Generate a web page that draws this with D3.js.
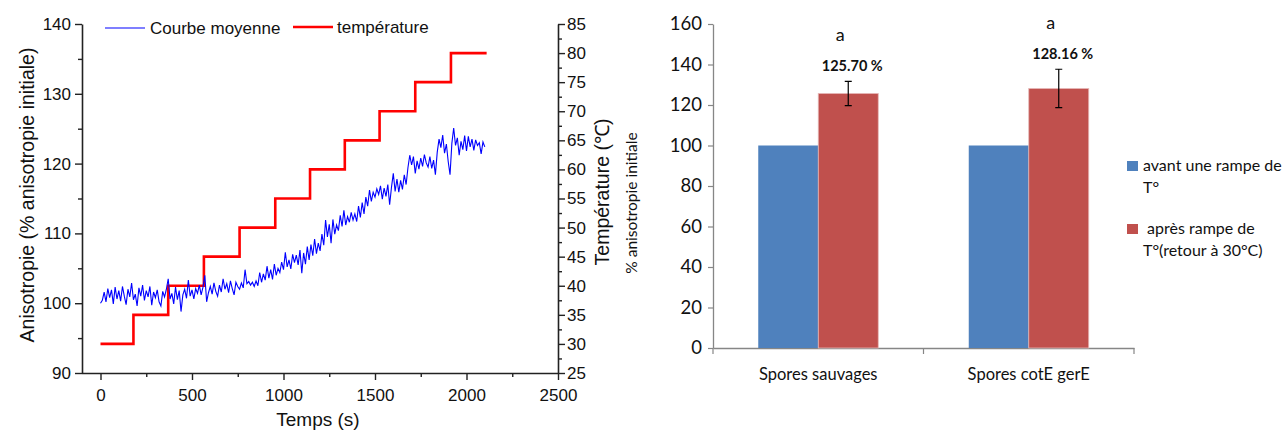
<!DOCTYPE html>
<html><head><meta charset="utf-8">
<script src="https://cdn.jsdelivr.net/npm/d3@7"></script>
<style>body{margin:0;background:#fff}svg{display:block}</style>
</head><body>
<svg id="c" width="1282" height="432"></svg>
<script>
// ---------- Left chart data ----------
const timeStep = 10; // seconds between samples of the mean curve
const anisotropy = [
100.0,100.4,101.6,100.2,102.1,100.8,101.9,99.9,102.3,100.6,
101.8,100.3,102.4,101.0,99.8,102.0,100.9,102.9,100.5,101.3,
99.6,102.2,101.0,102.6,100.4,101.8,100.9,102.4,99.7,101.6,
100.8,101.9,100.2,99.6,101.7,100.9,102.0,103.5,100.6,101.4,
99.9,102.3,100.5,101.8,98.8,101.2,102.0,100.7,103.3,101.0,
101.9,100.6,102.1,101.4,102.6,101.2,102.3,104.0,100.2,101.5,
102.4,101.3,102.9,101.7,101.0,102.6,101.6,103.5,102.0,102.8,
101.5,103.2,102.1,101.2,103.0,102.4,102.0,102.9,102.2,104.8,
102.8,103.1,102.6,103.0,102.4,103.2,102.5,104.4,103.0,104.2,
103.3,105.3,103.6,104.8,103.4,105.6,104.0,105.0,104.4,105.9,
104.8,107.3,105.2,106.2,104.9,107.0,105.8,106.9,105.5,107.6,
104.3,107.2,105.6,108.1,106.2,108.4,106.8,109.2,107.1,108.6,
107.5,109.9,108.3,111.9,109.5,111.3,108.6,112.0,109.9,111.2,
110.4,112.6,111.0,113.3,111.2,112.4,111.6,113.0,111.9,112.8,
111.7,113.9,112.3,114.4,112.8,115.2,113.9,116.2,114.6,115.9,
115.2,116.4,115.6,116.8,114.9,116.5,115.3,117.0,114.1,116.6,
118.6,116.0,117.8,115.9,117.6,116.3,118.4,117.0,119.4,121.2,
119.8,121.0,118.6,120.4,119.2,120.8,119.6,121.3,120.1,119.5,
121.0,119.3,120.5,118.4,121.6,123.5,122.3,124.1,121.5,122.8,
120.3,118.4,122.9,125.1,122.6,123.7,121.2,123.2,122.0,124.0,
121.8,123.9,122.4,123.5,121.9,123.4,122.6,123.0,121.4,123.1,
122.4];
const stepStarts = [0,180,370,565,760,955,1145,1335,1525,1720,1915];
const stepEnd = 2110;
const stepTemps = [30,35,40,45,50,55,60,65,70,75,80];
const xTicks = [0,500,1000,1500,2000,2500];
const yLeftTicks = [90,100,110,120,130,140];
const yRightTicks = [25,30,35,40,45,50,55,60,65,70,75,80,85];

// ---------- Right chart data ----------
const categories = ["Spores sauvages","Spores cotE gerE"];
const avant = [100,100];
const apres = [125.70,128.16];
const apresErr = [6.0,9.5];
const apresLabels = ["125.70 %","128.16 %"];
const signif = ["a","a"];
const barTicks = [0,20,40,60,80,100,120,140,160];

const svg = d3.select("#c");
const LF = "'Liberation Sans', Arial, sans-serif";
const RF = "Lato, 'Open Sans', sans-serif";

// ===== LEFT CHART =====
const x = d3.scaleLinear().domain([0,2500]).range([100.5,558]);
const yL = d3.scaleLinear().domain([90,140]).range([373,24]);
const yR = d3.scaleLinear().domain([25,85]).range([373,24]);
const fmt = d3.format("d");

function styleAxis(g, font, size, color){
  g.selectAll("path.domain").attr("stroke",color).attr("stroke-width",1.6);
  g.selectAll(".tick line").attr("stroke",color).attr("stroke-width",1.4);
  g.selectAll(".tick text").attr("fill","#111").style("font-family",font).style("font-size",size+"px");
}
// minor ticks
svg.append("g").attr("transform","translate(0,373)")
  .call(d3.axisBottom(x).tickValues(d3.range(250,2500,500)).tickSize(4).tickFormat(""))
  .call(g=>{g.select(".domain").remove();g.selectAll("line").attr("stroke","#222").attr("stroke-width",1.4);});
svg.append("g").attr("transform","translate(82,0)")
  .call(d3.axisLeft(yL).tickValues(d3.range(95,140,10)).tickSize(4).tickFormat(""))
  .call(g=>{g.select(".domain").remove();g.selectAll("line").attr("stroke","#222").attr("stroke-width",1.4);});
svg.append("g").attr("transform","translate(558,0)")
  .call(d3.axisRight(yR).tickValues(d3.range(27.5,85,5)).tickSize(4).tickFormat(""))
  .call(g=>{g.select(".domain").remove();g.selectAll("line").attr("stroke","#222").attr("stroke-width",1.4);});
// major axes
const gxb = svg.append("g").attr("transform","translate(0,373)")
  .call(d3.axisBottom(x).tickValues(xTicks).tickFormat(fmt).tickSize(7).tickSizeOuter(0).tickPadding(9));
gxb.select(".domain").attr("d","M82,0.5H558");
styleAxis(gxb, LF, 17, "#222");
const gyl = svg.append("g").attr("transform","translate(82,0)")
  .call(d3.axisLeft(yL).tickValues(yLeftTicks).tickFormat(fmt).tickSize(7).tickSizeOuter(0).tickPadding(4));
styleAxis(gyl, LF, 17, "#222");
const gyr = svg.append("g").attr("transform","translate(558,0)")
  .call(d3.axisRight(yR).tickValues(yRightTicks).tickFormat(fmt).tickSize(7).tickSizeOuter(0).tickPadding(2));
styleAxis(gyr, LF, 17, "#222");

// temperature step line
const stepPts = stepStarts.map((s,i)=>({t:s,v:stepTemps[i]}));
stepPts.push({t:stepEnd,v:stepTemps[stepTemps.length-1]});
svg.append("path").datum(stepPts)
  .attr("fill","none").attr("stroke","#ff0000").attr("stroke-width",2.6).attr("stroke-linejoin","miter")
  .attr("d",d3.line().x(d=>x(d.t)).y(d=>yR(d.v)).curve(d3.curveStepAfter));
// mean curve
svg.append("path").datum(anisotropy)
  .attr("fill","none").attr("stroke","#0000ff").attr("stroke-width",1.1)
  .attr("d",d3.line().x((d,i)=>x(i*timeStep)).y(d=>yL(d)));

// legend
svg.append("line").attr("x1",105).attr("x2",145).attr("y1",28).attr("y2",28).attr("stroke","#0000ff").attr("stroke-width",1.1);
svg.append("text").attr("x",150).attr("y",34).text("Courbe moyenne").style("font-family",LF).style("font-size","17px").attr("fill","#111");
svg.append("line").attr("x1",293).attr("x2",333).attr("y1",27).attr("y2",27).attr("stroke","#ff0000").attr("stroke-width",2.6);
svg.append("text").attr("x",337).attr("y",33).text("température").style("font-family",LF).style("font-size","17px").attr("fill","#111");

// axis titles
svg.append("text").attr("transform","translate(34,195) rotate(-90)").attr("text-anchor","middle")
  .text("Anisotropie (% anisotropie initiale)").style("font-family",LF).style("font-size","19.5px").attr("fill","#111");
svg.append("text").attr("transform","translate(609,192) rotate(-90)").attr("text-anchor","middle")
  .text("Température (℃)").style("font-family",LF).style("font-size","19.5px").attr("fill","#111");
svg.append("text").attr("x",318).attr("y",426).attr("text-anchor","middle")
  .text("Temps (s)").style("font-family",LF).style("font-size","19px").attr("fill","#111");

// ===== RIGHT CHART =====
const y2 = d3.scaleLinear().domain([0,160]).range([348,24]);
const x0 = d3.scaleBand().domain(categories).range([713,1134]).padding(0);
const bw = x0.bandwidth();
const x1 = d3.scaleBand().domain(["avant","apres"]).range([(bw-120)/2,(bw+120)/2]).padding(0);
const colors = {avant:"#4F81BD", apres:"#C0504D"};

const gy2 = svg.append("g").attr("transform","translate(713,0)")
  .call(d3.axisLeft(y2).tickValues(barTicks).tickSize(5).tickSizeOuter(0).tickPadding(6));
styleAxis(gy2, RF, 18.5, "#868686");
gy2.selectAll(".domain").attr("stroke-width",1.3);
gy2.selectAll(".tick line").attr("stroke-width",1.2);
const gx2 = svg.append("g").attr("transform","translate(0,348)")
  .call(d3.axisBottom(x0).tickSize(0).tickPadding(20));
styleAxis(gx2, RF, 16.5, "#868686");
gx2.selectAll(".domain").attr("stroke-width",1.3);
// category boundary ticks
svg.append("g").selectAll("line").data([713, 713+bw, 713+2*bw]).join("line")
  .attr("x1",d=>d).attr("x2",d=>d).attr("y1",348).attr("y2",354).attr("stroke","#868686").attr("stroke-width",1.2);

const groups = svg.append("g").selectAll("g").data(categories).join("g")
  .attr("transform",c=>`translate(${x0(c)},0)`);
groups.append("rect").attr("x",x1("avant")).attr("width",x1.bandwidth())
  .attr("y",(c,i)=>y2(avant[i])).attr("height",(c,i)=>y2(0)-y2(avant[i])).attr("fill",colors.avant);
groups.append("rect").attr("x",x1("apres")).attr("width",x1.bandwidth())
  .attr("y",(c,i)=>y2(apres[i])).attr("height",(c,i)=>y2(0)-y2(apres[i])).attr("fill",colors.apres)
  .attr("stroke","#E6B9B8").attr("stroke-width",0.8);
// error bars
const cx = x1("apres")+x1.bandwidth()/2;
groups.append("path").attr("fill","none").attr("stroke","#000").attr("stroke-width",1.2)
  .attr("d",(c,i)=>{const t=y2(apres[i]+apresErr[i]), b=y2(apres[i]-apresErr[i]);
    return `M${cx},${t}V${b}M${cx-3.5},${t}H${cx+3.5}M${cx-3.5},${b}H${cx+3.5}`;});
// labels
groups.append("text").attr("x",cx+4).attr("y",(c,i)=>y2(apres[i]+apresErr[i])-10.5).attr("text-anchor","middle")
  .text((c,i)=>apresLabels[i]).style("font-family",RF).style("font-size","14.5px").style("font-weight","bold").attr("fill","#111");
groups.append("text").attr("x",cx-8).attr("y",(c,i)=>y2(apres[i]+apresErr[i])-40.5).attr("text-anchor","middle")
  .text((c,i)=>signif[i]).style("font-family",RF).style("font-size","18px").attr("fill","#111");

// y title
svg.append("text").attr("transform","translate(637,203) rotate(-90)").attr("text-anchor","middle")
  .text("% anisotropie initiale").style("font-family",RF).style("font-size","15.5px").attr("fill","#111");

// legend
const leg = [
  {k:"avant", y:166, lines:["avant une rampe de","T°"]},
  {k:"apres", y:229, lines:[" après rampe de","T°(retour à 30°C)"]}
];
const lg = svg.append("g").selectAll("g").data(leg).join("g");
lg.append("rect").attr("x",1127).attr("y",d=>d.y-5).attr("width",11).attr("height",10).attr("fill",d=>colors[d.k]);
lg.append("text").style("font-family",RF).style("font-size","16px").attr("fill","#111")
  .attr("xml:space","preserve")
  .selectAll("tspan").data(d=>d.lines.map((l,j)=>({l,j,y:d.y}))).join("tspan")
  .attr("x",1143).attr("y",d=>d.y+5+d.j*22).text(d=>d.l);
</script>
</body></html>
